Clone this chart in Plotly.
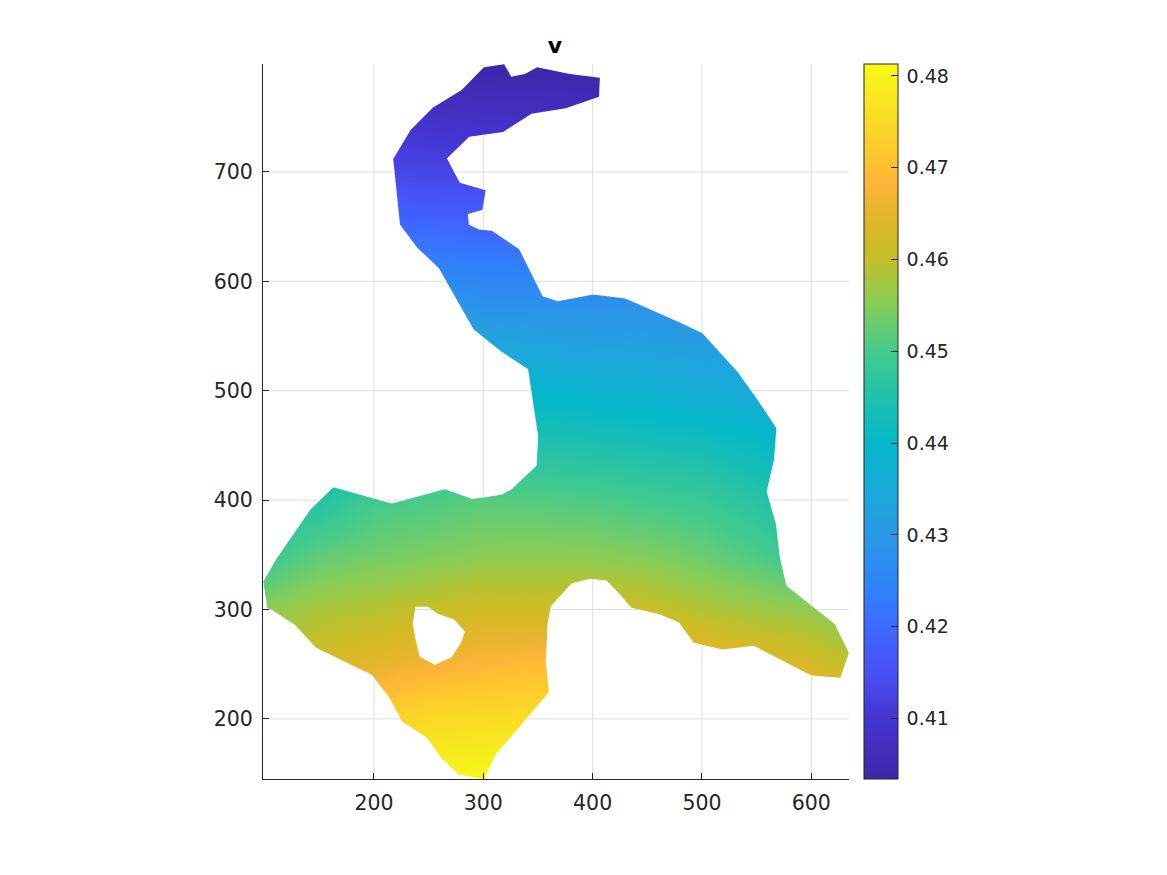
import plotly.graph_objects as go

title = "v"
outline_x = [300.5,319.1,325.5,338,349.3,379.1,406.6,405.9,375.5,344.1,318.2,287.1,266.7,278.6,302.1,299.4,285.9,286.8,296,307.9,332.8,354.2,368.2,400.4,430,455,479.7,500.4,533,549.8,568.1,565.9,559.2,567.7,571.1,577.2,600,621.4,634.4,626.6,600,586.3,547.3,518.7,492.5,478.8,459.8,435.5,424.2,412.7,397.4,380.7,361.8,358.8,357.2,360,311.2,300.8,277.7,261.9,248.2,225.9,213.7,197.9,191.8,146.7,127.8,106.5,102.5,98.8,111.1,142.1,162.8,216.2,240.5,264.9,289.8,316.7,325.9,335,348.7,350.2,341,315.2,291.1,259.4,239.6,223.8,217.6,233.5,253.7,280.2]
outline_y = [795.7,798.4,787.1,789.6,795.7,789.6,786.2,768.8,758.2,753.3,736.6,732.3,712.2,690.2,683.3,665.5,661.6,651.8,647.3,646.3,629.3,586.4,581.8,587.9,584.2,573,562.3,552.6,516.6,493.2,465.7,436.8,407.8,378,348.4,321.6,303.3,286.6,260.1,237.5,239.6,246.4,266.8,263.4,269.5,288.4,296,301.5,314.6,326.5,328,323.7,303,287.5,252.4,224.4,167.1,145,148.9,164.1,183,197.3,219.9,240.3,243.3,265.2,285.7,299.7,301.2,325.5,346.9,391.7,411.8,396.8,403.2,410,401.1,404.8,410,418.5,431.3,458.1,519.7,536.7,556.2,612,630.8,652,711.9,738.4,758.8,774.9]
hole_x = [238.1,249.6,258.2,273.4,283.2,279.5,271,255.8,241.8,238.1,235.4]
hole_y = [302.4,302.4,296,290.8,279.8,269.2,256.4,249.4,256.7,272.2,287.5]

grid_x = [100,150,200,250,300,350,400,450,500,550,600,650]
grid_y = [150,200,250,300,350,400,450,500,550,600,650,700,750,800]
v_150 = [.474,.476,.478,.4795,.4805,.481,.481,.48,.479,.478,.477,.476]
v_200 = [.468,.47,.473,.475,.4755,.476,.4755,.475,.474,.473,.472,.47]
v_250 = [.46,.4625,.4652,.4672,.4685,.4695,.469,.4685,.4675,.464,.4628,.4585]
v_300 = [.4555,.458,.459,.4605,.4618,.4615,.4618,.461,.4585,.4572,.456,.4525]
v_350 = [.4485,.452,.4535,.4545,.4555,.4558,.4555,.4547,.453,.4505,.4475,.445]
v_400 = [.444,.4455,.4495,.4505,.4515,.4512,.4505,.4495,.4485,.446,.443,.441]
v_450 = [.437,.439,.442,.444,.445,.445,.4445,.4438,.443,.441,.439,.437]
v_500 = [.432,.435,.437,.4385,.4395,.4392,.4385,.4375,.436,.435,.434,.433]
v_550 = [.428,.43,.432,.433,.4325,.432,.4315,.431,.4305,.432,.433,.434]
v_600 = [.4285,.428,.4275,.4265,.4255,.4255,.4255,.4265,.4275,.4285,.43,.43]
v_650 = [.421,.4205,.42,.4195,.419,.4185,.4185,.419,.42,.42,.42,.42]
v_700 = [.414,.414,.4135,.413,.4125,.412,.412,.412,.412,.412,.412,.412]
v_750 = [.41,.41,.41,.4085,.408,.4075,.407,.407,.407,.407,.407,.407]
v_800 = [.4034,.4034,.4034,.4034,.4034,.4034,.4034,.4034,.4034,.4034,.4034,.4034]
field = [v_150,v_200,v_250,v_300,v_350,v_400,v_450,v_500,v_550,v_600,v_650,v_700,v_750,v_800]

x_ticks = [200,300,400,500,600]
y_ticks = [200,300,400,500,600,700]
cb_ticks = [.41,.42,.43,.44,.45,.46,.47,.48]
x_range = [98.5,634.5]
y_range = [145,798.7]
v_range = [.4034,.4813]
colors = [[0,"#3e26a8"],[.085,"#4535d2"],[.15,"#4850f5"],[.213,"#3d6aff"],[.26,"#2f80fa"],
          [.341,"#2a98e5"],[.40,"#1ba9db"],[.47,"#05b8c9"],[.51,"#14bdb8"],[.598,"#44cb8c"],
          [.663,"#85cd5a"],[.70,"#a8c63c"],[.727,"#c2c02a"],[.765,"#d8b826"],[.804,"#e9b52e"],[.836,"#ffb63a"],
          [.854,"#ffc030"],[.919,"#f9d925"],[.983,"#f8f41b"],[1,"#f9fb15"]]
ink = "#262626"
grid_color = "#dedede"

def outside(fixed, along, lo, hi):
    """Parts of a grid line that lie outside the shape."""
    cuts = []
    for a, b in ((outline_x, outline_y), (hole_x, hole_y)):
        p, q = (a, b) if along == "x" else (b, a)
        n = len(p)
        for i in range(n):
            q0, q1, p0, p1 = q[i], q[(i+1) % n], p[i], p[(i+1) % n]
            if (q0 <= fixed) != (q1 <= fixed):
                cuts.append(p0 + (fixed-q0)/(q1-q0)*(p1-p0))
    pts = [lo] + sorted(cuts) + [hi]
    return [(pts[i], pts[i+1]) for i in range(0, len(pts)-1, 2)]

gx, gy = [], []
for t in y_ticks:
    for a, b in outside(t, "x", x_range[0], x_range[1]):
        gx += [a, b, None]; gy += [t, t, None]
for t in x_ticks:
    for a, b in outside(t, "y", y_range[0], y_range[1]):
        gx += [t, t, None]; gy += [a, b, None]

fig = go.Figure()
fig.add_trace(go.Heatmap(x=grid_x, y=grid_y, z=field, zsmooth="best", zmin=v_range[0], zmax=v_range[1],
    colorscale=colors, hoverinfo="skip",
    colorbar=dict(x=(864-263)/586, xanchor="left", xpad=0, ypad=0, y=.5, yanchor="middle", len=1, thickness=34,
        outlinecolor=ink, outlinewidth=1, tickmode="array", tickvals=cb_ticks, ticktext=["\u2009"+f"{t:.2f}" for t in cb_ticks],
        ticks="inside", ticklen=7, tickcolor=ink, tickwidth=1, tickfont=dict(family="DejaVu Sans", size=19, color=ink))))
# white surround: frame + outline + hole, opposite windings
mx = [0,0,700,700,0,None] + outline_x[::-1] + [outline_x[-1],None] + hole_x + [hole_x[0]]
my = [100,850,850,100,100,None] + outline_y[::-1] + [outline_y[-1],None] + hole_y + [hole_y[0]]
fig.add_trace(go.Scatter(x=mx, y=my, mode="lines", line=dict(width=0, color="white"), fill="toself",
    fillcolor="white", hoverinfo="skip", showlegend=False))
fig.add_trace(go.Scatter(x=gx, y=gy, mode="lines", line=dict(width=1, color=grid_color), hoverinfo="skip", showlegend=False))

axis = dict(showgrid=False, zeroline=False, showline=True, linecolor=ink, linewidth=1, ticks="inside", ticklen=6,
            tickcolor=ink, tickwidth=1, tickfont=dict(family="DejaVu Sans", size=20.5, color=ink), mirror=False)
fig.update_layout(width=1167, height=875, autosize=False, paper_bgcolor="white", plot_bgcolor="white",
    margin=dict(l=263, r=318, t=64, b=96, pad=0), showlegend=False,
    xaxis=dict(range=x_range, tickvals=x_ticks, ticklabelstandoff=5, **axis),
    yaxis=dict(range=y_range, tickvals=y_ticks, ticklabelstandoff=5, **axis),
    title=dict(text="<b>"+title+"</b>", x=555/1167, xanchor="center", y=1-45/875, yanchor="middle",
               font=dict(family="DejaVu Sans", size=22, color="black")))
fig.write_html("out.html", config={"displayModeBar": False},
               post_script="document.body.style.margin='0';document.documentElement.style.overflow='hidden';")
